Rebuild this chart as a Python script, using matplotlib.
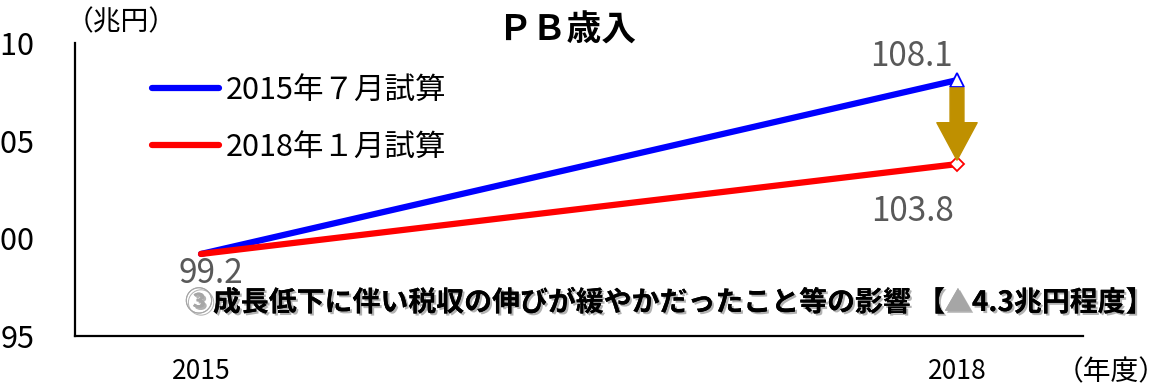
import matplotlib
matplotlib.use("Agg")
import matplotlib.pyplot as plt
import matplotlib.patheffects as pe
from matplotlib.lines import Line2D

plt.rcParams['font.family'] = ['Noto Sans CJK JP', 'DejaVu Sans']

# ---- data ----
years = [2015, 2018]
plan_2015_jul = [99.2, 108.1]
plan_2018_jan = [99.2, 103.8]
series_names = ["2015年７月試算", "2018年１月試算"]
yticks = [95, 100, 105, 110]
xtick_labels = ["2015", "2018"]
title = "ＰＢ歳入"
y_unit = "（兆円）"
x_unit = "（年度）"
note_prefix = "③"
note_main = "成長低下に伴い税収の伸びが緩やかだったこと等の影響 【"
note_tri = "▲"
note_tail = "4.3兆円程度】"

W, H = 1153, 390
fig = plt.figure(figsize=(W / 100, H / 100), dpi=100)
ax = fig.add_axes([75 / W, 1 - 336 / H, (1083 - 75) / W, (336 - 43) / H])

blue = "#0000FF"
red = "#FF0000"
ax.plot(years, plan_2015_jul, color=blue, lw=4.5, solid_capstyle='round', zorder=3)
ax.plot(years, plan_2018_jan, color=red, lw=4.5, solid_capstyle='round', zorder=4)
ax.plot(years[-1:], plan_2015_jul[-1:], ls='none', marker='^', ms=10, mfc='white',
        mec=blue, mew=1.3, zorder=5)
ax.plot(years[-1:], plan_2018_jan[-1:], ls='none', marker='D', ms=7.5, mfc='white',
        mec=red, mew=1.3, zorder=5)

ax.set_xlim(2014.5, 2018.5)
ax.set_ylim(95, 110)
ax.set_yticks(yticks)
ax.set_xticks(years)
ax.set_xticklabels(xtick_labels)
ax.tick_params(axis='y', length=0, pad=29, labelsize=22, colors='black')
ax.tick_params(axis='x', length=0, pad=16, labelsize=19, colors='black')
for s in ['top', 'right']:
    ax.spines[s].set_visible(False)
for s in ['left', 'bottom']:
    ax.spines[s].set_linewidth(1.6)
    ax.spines[s].set_color('black')

# data labels
lab_col = "#595959"
ax.annotate(f"{plan_2015_jul[-1]:.1f}", (years[-1], plan_2015_jul[-1]), xytext=(-33, 17),
            textcoords='offset points', ha='center', va='center', fontsize=24, color=lab_col)
ax.annotate(f"{plan_2018_jan[-1]:.1f}", (years[-1], plan_2018_jan[-1]), xytext=(-32, -34),
            textcoords='offset points', ha='center', va='center', fontsize=24, color=lab_col)
ax.annotate(f"{plan_2015_jul[0]:.1f}", (years[0], plan_2015_jul[0]), xytext=(7, -14),
            textcoords='offset points', ha='center', va='center', fontsize=24, color=lab_col)

# arrow
ax.annotate("", xy=(years[-1], plan_2018_jan[-1] + 0.2), xytext=(years[-1], plan_2015_jul[-1] - 0.4),
            arrowprops=dict(arrowstyle="simple,head_width=29,head_length=27,tail_width=10",
                            color="#BF9000", shrinkA=0, shrinkB=0, mutation_scale=1), zorder=6)

# legend
handles = [Line2D([], [], color=blue, lw=4.5, solid_capstyle='round'),
           Line2D([], [], color=red, lw=4.5, solid_capstyle='round')]
fig.legend(handles, series_names, loc='upper left', bbox_to_anchor=(152 / W, 1 - 75 / H),
           frameon=False, fontsize=22, handlelength=2.2, handletextpad=0.2,
           labelspacing=0.85, borderpad=0, borderaxespad=0)

# title & units
fig.text(567 / W, 1 - 30 / H, title, ha='center', va='center', fontsize=25, fontweight='bold')
fig.text(66 / W, 1 - 22 / H, y_unit, ha='left', va='center', fontsize=20)
fig.text(1056 / W, 1 - 372 / H, x_unit, ha='left', va='center', fontsize=20)

# note text with shadow
shadow = [pe.withSimplePatchShadow(offset=(1.5, -1.5), shadow_rgbFace='#808080', alpha=0.6),
          pe.Normal()]
fig.canvas.draw()
renderer = fig.canvas.get_renderer()
x = 185
ycen = 1 - 303 / H
pieces = [(note_prefix, '#A6A6A6'), (note_main, 'black'), (note_tri, '#A6A6A6'), (note_tail, 'black')]
for txt, col in pieces:
    t = fig.text(x / W, ycen, txt, ha='left', va='center', fontsize=20.1, fontweight='bold',
                 color=col, path_effects=shadow)
    bb = t.get_window_extent(renderer)
    x = x + bb.width

fig.savefig("out.png", dpi=100)
